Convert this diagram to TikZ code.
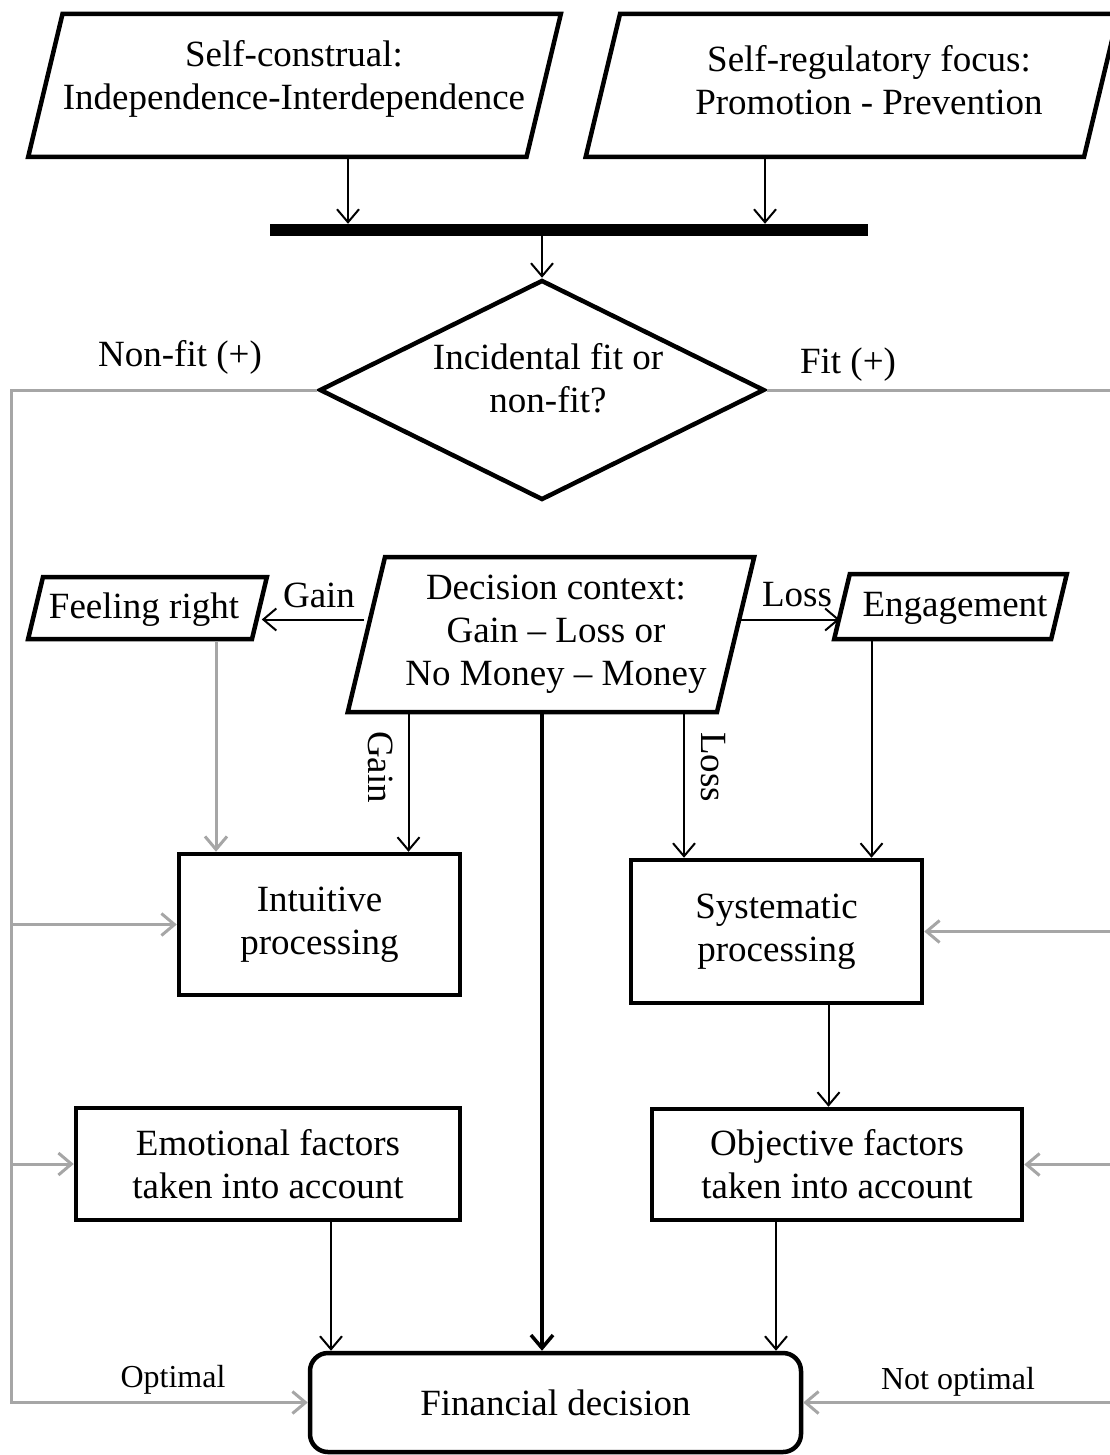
\documentclass[tikz,border=0pt]{standalone}
\usepackage{fontspec}
\setmainfont{Liberation Serif}
\usetikzlibrary{shapes.geometric,arrows.meta}
\definecolor{lgrey}{RGB}{166,166,166}

\tikzset{
	para/.style={trapezium, draw, line width=4.5pt, trapezium left angle=76.5, trapezium right angle=103.5},
	procbox/.style={rectangle, draw, line width=4.5pt, align=center, inner sep=0pt},
	conn/.style={line width=2pt, -{Straight Barb[length=13pt,width=22pt]}},
	gline/.style={lgrey, line width=3pt},
	garrow/.style={gline, -{Straight Barb[length=13pt,width=22pt]}},
	small/.style={font=\fontsize{32}{36}\selectfont},
}

\begin{document}
\begin{tikzpicture}[x=1pt,y=1pt,yscale=-1,font=\fontsize{37}{43}\selectfont]
	\useasboundingbox (0,0) rectangle (1109,1455);

	% inputs
	\node (sc) [para, inner xsep=232pt, inner ysep=71.5pt] at (294.5,85.5) {};
	\node (scTxt) [align=center] at (294,79) {Self-construal:\\Independence-Interdependence};
	\node (srf) [para, inner xsep=232pt, inner ysep=71.5pt] at (852,85.5) {};
	\node (srfTxt) [align=center] at (869,80) {Self-regulatory focus:\\Promotion - Prevention};
	\node (bar) [fill, minimum width=598pt, minimum height=12pt, inner sep=0pt] at (569,230) {};
	\draw [conn] ([xshift=53.5pt]sc.south) -- ([xshift=53.5pt]sc.south |- bar.north);
	\draw [conn] ([xshift=-87pt]srf.south) -- ([xshift=-87pt]srf.south |- bar.north);

	% fit or non-fit
	\node (fit) [diamond, draw, line width=4.5pt, minimum width=445pt, minimum height=220pt, inner sep=0pt] at (542,390) {};
	\node (fitTxt) [align=center] at (548,378) {Incidental fit or\\non-fit?};
	\draw [conn] (bar.south -| fit.north) -- (fit.north);

	% context
	\node (ctx) [para, inner xsep=166pt, inner ysep=77.5pt] at (551,634.5) {};
	\node (ctxTxt) [align=center] at (556,634) {Decision context:\\Gain – Loss or\\No Money – Money};
	\node (fr) [para, inner xsep=104.5pt, inner ysep=31pt] at (147.5,608) {};
	\node (frTxt) at (144,610) {Feeling right};
	\node (eng) [para, inner xsep=100.7pt, inner ysep=32.5pt] at (950.5,606.5) {};
	\node (engTxt) at (955,608) {Engagement};

	% processing
	\node (int) [procbox, minimum width=281pt, minimum height=141pt] at (319.5,924.5) {Intuitive\\processing};
	\node (sys) [procbox, minimum width=291pt, minimum height=143pt] at (776.5,931.5) {Systematic\\processing};
	\node (emo) [procbox, minimum width=384pt, minimum height=112pt] at (268,1164) {Emotional factors\\taken into account};
	\node (obj) [procbox, minimum width=370pt, minimum height=111pt] at (837,1164.5) {Objective factors\\taken into account};
	\node (fd) [procbox, rounded corners=18pt, minimum width=491pt, minimum height=99pt] at (555.5,1402.5) {Financial decision};

	\draw [conn] ([yshift=-15pt]ctx.west) -- ([yshift=-15pt]ctx.west -| fr.east);
	\draw [conn] ([yshift=-15pt]ctx.east) -- ([yshift=-15pt]ctx.east -| eng.west);
	\draw [conn] ([xshift=-142.5pt]ctx.south) -- ([xshift=-142.5pt]ctx.south |- int.north);
	\draw [conn, line width=3.5pt] ([xshift=-9pt]ctx.south) -- ([xshift=-9pt]ctx.south |- fd.north);
	\draw [conn] ([xshift=133pt]ctx.south) -- ([xshift=133pt]ctx.south |- sys.north);
	\draw [garrow] ([xshift=68.5pt]fr.south) -- ([xshift=68.5pt]fr.south |- int.north);
	\draw [conn] ([xshift=-79pt]eng.south) -- ([xshift=-79pt]eng.south |- sys.north);
	\draw [conn] ([xshift=52pt]sys.south) -- ([xshift=52pt]sys.south |- obj.north);
	\draw [conn] ([xshift=63pt]emo.south) -- ([xshift=63pt]emo.south |- fd.north);
	\draw [conn] ([xshift=-61pt]obj.south) -- ([xshift=-61pt]obj.south |- fd.north);

	% fit / non-fit routes
	\coordinate (nf) at (11,390);
	\coordinate (ft) at (1112,390);
	\draw [garrow] (fit.west) -- (nf) |- (fd.west);
	\draw [garrow] (nf |- int.west) -- (int.west);
	\draw [garrow] (nf |- emo.west) -- (emo.west);
	\draw [garrow] (fit.east) -- (ft) |- (fd.east);
	\draw [garrow] (ft |- sys.east) -- (sys.east);
	\draw [garrow] (ft |- obj.east) -- (obj.east);

	\node (nfLbl) at (180,357) {Non-fit (+)};
	\node (ftLbl) at (848,365) {Fit (+)};
	\node (gainL) at (319,595) {Gain};
	\node (lossL) at (797,595) {Loss};
	\node (gainD) [rotate=-90] at (381,767) {Gain};
	\node (lossD) [rotate=-90] at (713,767) {Loss};
	\node (opt) [small] at (173,1380) {Optimal};
	\node (nopt) [small] at (958,1382) {Not optimal};
\end{tikzpicture}
\end{document}
